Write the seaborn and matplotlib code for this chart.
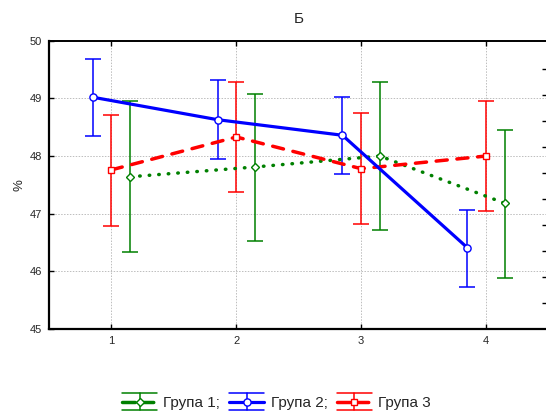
import numpy as np
import pandas as pd
import matplotlib
matplotlib.use("Agg")
import matplotlib.pyplot as plt
import seaborn as sns
from matplotlib.lines import Line2D
from matplotlib.legend_handler import HandlerBase

# ---- data ----
x_levels = [1, 2, 3, 4]
group_names = ["Група 1", "Група 2", "Група 3"]
legend_labels = ["Група 1;", "Група 2;", "Група 3"]

g1_mean = [47.64, 47.81, 48.00, 47.18]
g1_low = [46.33, 46.52, 46.72, 45.89]
g1_high = [48.96, 49.08, 49.29, 48.45]

g2_mean = [49.02, 48.63, 48.36, 46.41]
g2_low = [48.34, 47.95, 47.69, 45.72]
g2_high = [49.68, 49.31, 49.03, 47.07]

g3_mean = [47.76, 48.33, 47.78, 48.00]
g3_low = [46.79, 47.38, 46.82, 47.04]
g3_high = [48.71, 49.29, 48.74, 48.95]

title = "Б"
ylabel = "%"
y_ticks = [45, 46, 47, 48, 49, 50]

# ---- styles ----
styles = {
    "Група 1": dict(color="#008000", offset=0.15, ls=(0, (0.15, 2.6)), lw=2.5,
                    marker="D", ms=4.3, cap="round", z=3),
    "Група 2": dict(color="#0000FF", offset=-0.15, ls="-", lw=2.3,
                    marker="o", ms=5.2, cap="butt", z=5),
    "Група 3": dict(color="#FF0000", offset=0.0, ls=(0, (3.2, 2.8)), lw=2.5,
                    marker="s", ms=5.0, cap="round", z=4),
}
means = {"Група 1": g1_mean, "Група 2": g2_mean, "Група 3": g3_mean}
lows = {"Група 1": g1_low, "Група 2": g2_low, "Група 3": g3_low}
highs = {"Група 1": g1_high, "Група 2": g2_high, "Група 3": g3_high}

sns.set_theme(style="ticks")
plt.rcParams["font.family"] = ["Liberation Sans", "DejaVu Sans"]

fig = plt.figure(figsize=(5.46, 4.16), dpi=100)
ax = fig.add_axes([49 / 546, (416 - 329) / 416, (548.5 - 49) / 546, (329 - 40.7) / 416])

for g in group_names:
    st = styles[g]
    df = pd.DataFrame({"pos": np.array(x_levels) + st["offset"], "val": means[g]})
    m = np.array(means[g]); lo = np.array(lows[g]); hi = np.array(highs[g])
    ax.errorbar(df["pos"], m, yerr=[m - lo, hi - m], fmt="none",
                ecolor=st["color"], elinewidth=1.1, capsize=5.8, capthick=1.1,
                zorder=2)
    sns.lineplot(data=df, x="pos", y="val", ax=ax, color=st["color"],
                 linestyle=st["ls"], linewidth=st["lw"], marker=st["marker"],
                 markersize=st["ms"], markerfacecolor="white",
                 markeredgecolor=st["color"], markeredgewidth=1.0,
                 dash_capstyle=st["cap"], sort=False, errorbar=None,
                 legend=False, zorder=st["z"])

ax.set_xlim(0.5, 4.5)
ax.set_ylim(45, 50)
ax.set_xticks(x_levels)
ax.set_yticks(y_ticks)
ax.set_xlabel("")
ax.set_ylabel(ylabel, fontsize=9.5, labelpad=3)
ax.set_title(title, fontsize=11, pad=13)
ax.grid(True, color="#bdbdbd", linestyle=(0, (1.5, 1.5)), linewidth=0.7)
ax.tick_params(axis="both", direction="in", length=3.5, width=1.0, color="black",
               labelsize=8, top=True, right=False, pad=5)
for s in ["left", "bottom"]:
    ax.spines[s].set_linewidth(1.6)
for s in ["top", "right"]:
    ax.spines[s].set_linewidth(1.4)
for s in ax.spines.values():
    s.set_color("black")

# secondary (cropped) right axis ticks
ax2 = ax.twinx()
ax2.set_ylim(0, 11.08)
ax2.set_yticks(range(1, 11))
ax2.set_yticklabels([])
ax2.tick_params(axis="y", direction="in", length=5, width=1.0, color="black")
for s in ax2.spines.values():
    s.set_visible(False)
ax2.grid(False)


class ErrHandler(HandlerBase):
    def create_artists(self, legend, orig, xdescent, ydescent, width, height,
                       fontsize, trans):
        c = orig.get_color()
        x0 = -xdescent
        x1 = x0 + width
        cx = (x0 + x1) / 2
        cy = height / 2 - ydescent
        half = 0.55 * fontsize
        arts = [
            Line2D([x0, x1], [cy + half] * 2, color=c, lw=1.1),
            Line2D([x0, x1], [cy - half] * 2, color=c, lw=1.1),
            Line2D([cx, cx], [cy - half, cy + half], color=c, lw=1.1),
            Line2D([x0, x1], [cy, cy], color=c, lw=orig.get_linewidth(),
                   linestyle=orig.get_linestyle(),
                   dash_capstyle=orig.get_dash_capstyle()),
            Line2D([cx], [cy], marker=orig.get_marker(), markersize=orig.get_markersize(),
                   markerfacecolor="white", markeredgecolor=c, markeredgewidth=1.0,
                   linestyle="none"),
        ]
        for a in arts:
            a.set_transform(trans)
        return arts


handles = []
for g, lab in zip(group_names, legend_labels):
    st = styles[g]
    handles.append(Line2D([], [], color=st["color"], linestyle=st["ls"],
                          linewidth=st["lw"], marker=st["marker"], markersize=st["ms"],
                          dash_capstyle=st["cap"], label=lab))

fig.legend(handles=handles, labels=legend_labels, loc="center",
           bbox_to_anchor=(0.506, 0.031), ncol=3, frameon=False, fontsize=11,
           handlelength=2.3, handletextpad=0.4, columnspacing=0.6,
           handler_map={Line2D: ErrHandler()})

fig.savefig("out.png", dpi=100)
